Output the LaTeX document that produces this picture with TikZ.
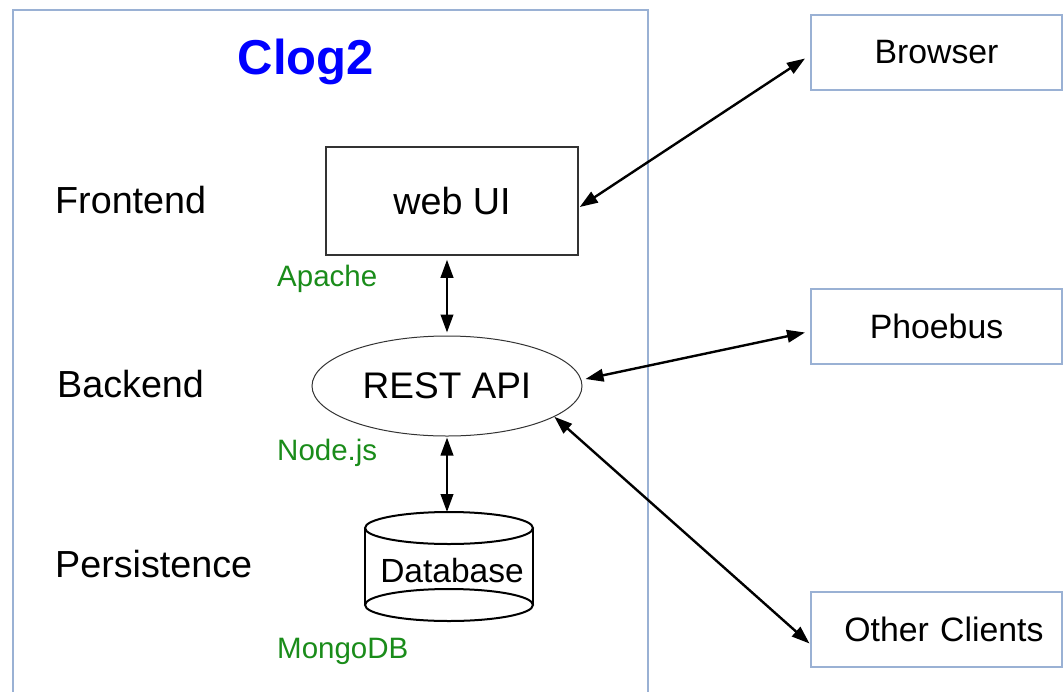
\documentclass[tikz,border=0pt]{standalone}
\usepackage{fontspec}
\setmainfont{Liberation Sans}
\usetikzlibrary{arrows.meta,shapes.geometric,calc}
\definecolor{framec}{HTML}{9AB1D4}
\definecolor{lblgreen}{HTML}{1A8C1A}
\definecolor{boxgray}{HTML}{333333}
\begin{document}
\begin{tikzpicture}[x=1pt,y=-1pt,
  ext/.style={draw=framec,line width=2pt,minimum width=251pt,minimum height=75pt,inner sep=0pt,
    font=\fontsize{33.8}{40}\selectfont},
  layer/.style={anchor=west,inner sep=0pt,font=\fontsize{37.7}{45}\selectfont},
  tech/.style={anchor=base west,inner sep=0pt,text=lblgreen,font=\fontsize{29.5}{35}\selectfont},
  conn/.style={line width=2.4pt,{Triangle[length=18pt,width=12.5pt]}-{Triangle[length=18pt,width=12.5pt]}},
  title/.style={anchor=base,inner sep=0pt,text=blue,font=\fontsize{49}{58}\selectfont\bfseries}]
\useasboundingbox (0,0) rectangle (1063,691);
% outer frame
\draw[framec,line width=2pt] (13,693) -- (13,10) -- (648,10) -- (648,693);
\node[title] (title) at (306,74) {Clog2};
% layer labels
\node[layer] (fe) at (55,200) {Frontend};
\node[layer] (be) at (57,384) {Backend};
\node[layer] (pe) at (55,564) {Persistence};
% components
\node[draw=boxgray,line width=1.5pt,minimum width=252pt,minimum height=108pt,inner sep=0pt,
  font=\fontsize{37.7}{45}\selectfont] (webui) at (452,201) {web UI};
\node[draw=boxgray,line width=1pt,ellipse,minimum width=270pt,minimum height=100pt,inner sep=0pt,
  font=\fontsize{37}{45}\selectfont] (rest) at (447,386) {REST API};
% database cylinder
\draw[line width=2pt] (365,528) -- (365,605) (533,528) -- (533,605);
\draw[line width=2pt] (449,528) ellipse [x radius=84, y radius=16];
\draw[line width=2pt] (449,605) ellipse [x radius=84, y radius=16];
\node[inner sep=0pt,font=\fontsize{33.5}{40}\selectfont] (db) at (452,571) {Database};
\coordinate (dbtop) at (447,512);
% technology labels
\node[tech] (apache) at (277,286) {Apache};
\node[tech] (node) at (277,460) {Node.js};
\node[tech] (mongo) at (277,658) {MongoDB};
% external clients
\node[ext] (browser) at (936.5,52.5) {Browser};
\node[ext] (phoebus) at (936.5,326.5) {Phoebus};
\node[ext,inner xsep=0pt,text width=251pt,align=center] (other) at (936,629.5) {\hspace*{16pt}Other Clients};
% connectors
\draw[conn] ($(webui.east)+(1,6)$) -- ($(browser.west)+(-5,6)$);
\draw[conn,shorten <=4pt,shorten >=3pt] (rest.north |- webui.south) -- (rest.north);
\draw[conn,shorten <=1pt] (rest.south) -- (dbtop);
\draw[conn] ($(rest.east)+(3,-7)$) -- ($(phoebus.west)+(-5,6)$);
\draw[conn] (rest.-16) -- ($(other.west)+(0,14)$);
\end{tikzpicture}
\end{document}
